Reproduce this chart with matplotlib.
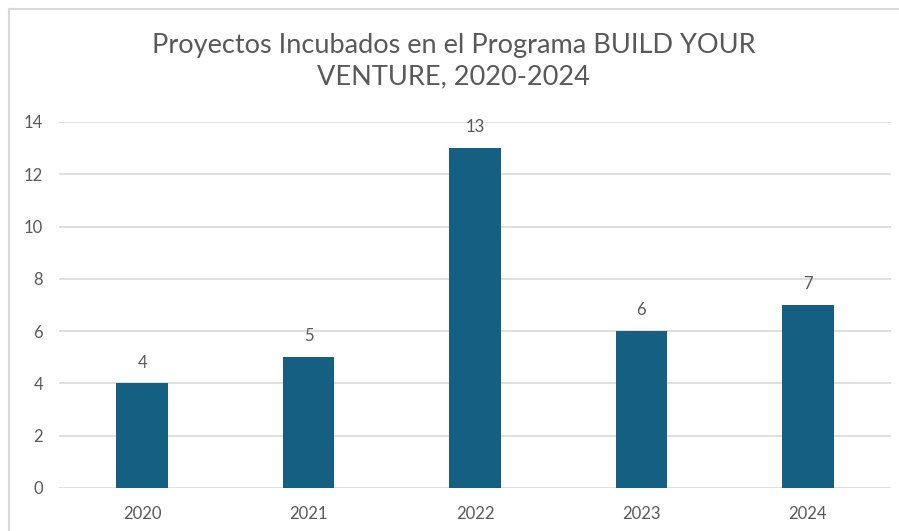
import matplotlib
matplotlib.use("Agg")
import matplotlib.pyplot as plt
from matplotlib.lines import Line2D

years = ["2020", "2021", "2022", "2023", "2024"]
projects = [4, 5, 13, 6, 7]
y_ticks = [0, 2, 4, 6, 8, 10, 12, 14]
title = "Proyectos Incubados en el Programa BUILD YOUR\nVENTURE, 2020-2024"

plt.rcParams['font.family'] = ['Lato', 'DejaVu Sans']
W, H = 899, 531
fig = plt.figure(figsize=(W / 100, H / 100), dpi=100)
fig.patch.set_facecolor("white")

# outer chart border (top and left visible)
fig.add_artist(Line2D([8.5 / W, 1], [1 - 8.5 / H, 1 - 8.5 / H], color="#d9d9d9", lw=1.5, transform=fig.transFigure))
fig.add_artist(Line2D([8.5 / W, 8.5 / W], [0, 1 - 8.5 / H], color="#d9d9d9", lw=1.5, transform=fig.transFigure))

left, right = 59 / W, 891 / W
bottom, top = (H - 488) / H, (H - 122) / H
ax = fig.add_axes([left, bottom, right - left, top - bottom])

x = list(range(len(years)))
bars = ax.bar(x, projects, width=0.31, color="#156082", zorder=3)
ax.set_xlim(-0.5, len(years) - 0.5)
ax.set_ylim(0, 14)
ax.set_yticks(y_ticks)
ax.set_xticks(x)
ax.set_xticklabels(years)

for s in ax.spines.values():
    s.set_visible(False)
ax.grid(axis="y", color="#d9d9d9", lw=1.2, zorder=0)
ax.set_axisbelow(True)
ax.tick_params(axis="both", length=0, colors="#595959", labelsize=12)
ax.tick_params(axis="y", pad=11.5)
ax.tick_params(axis="x", pad=13)

for xi, v in zip(x, projects):
    ax.annotate(str(v), (xi, v), xytext=(0, 15), textcoords="offset points",
                ha="center", va="center", fontsize=12, color="#595959")

fig.text(0.5 * (1 + 8 / W), 1 - 61 / H, title, ha="center", va="center",
         fontsize=19.5, color="#595959", linespacing=1.3)

fig.savefig("out.png", dpi=100)
